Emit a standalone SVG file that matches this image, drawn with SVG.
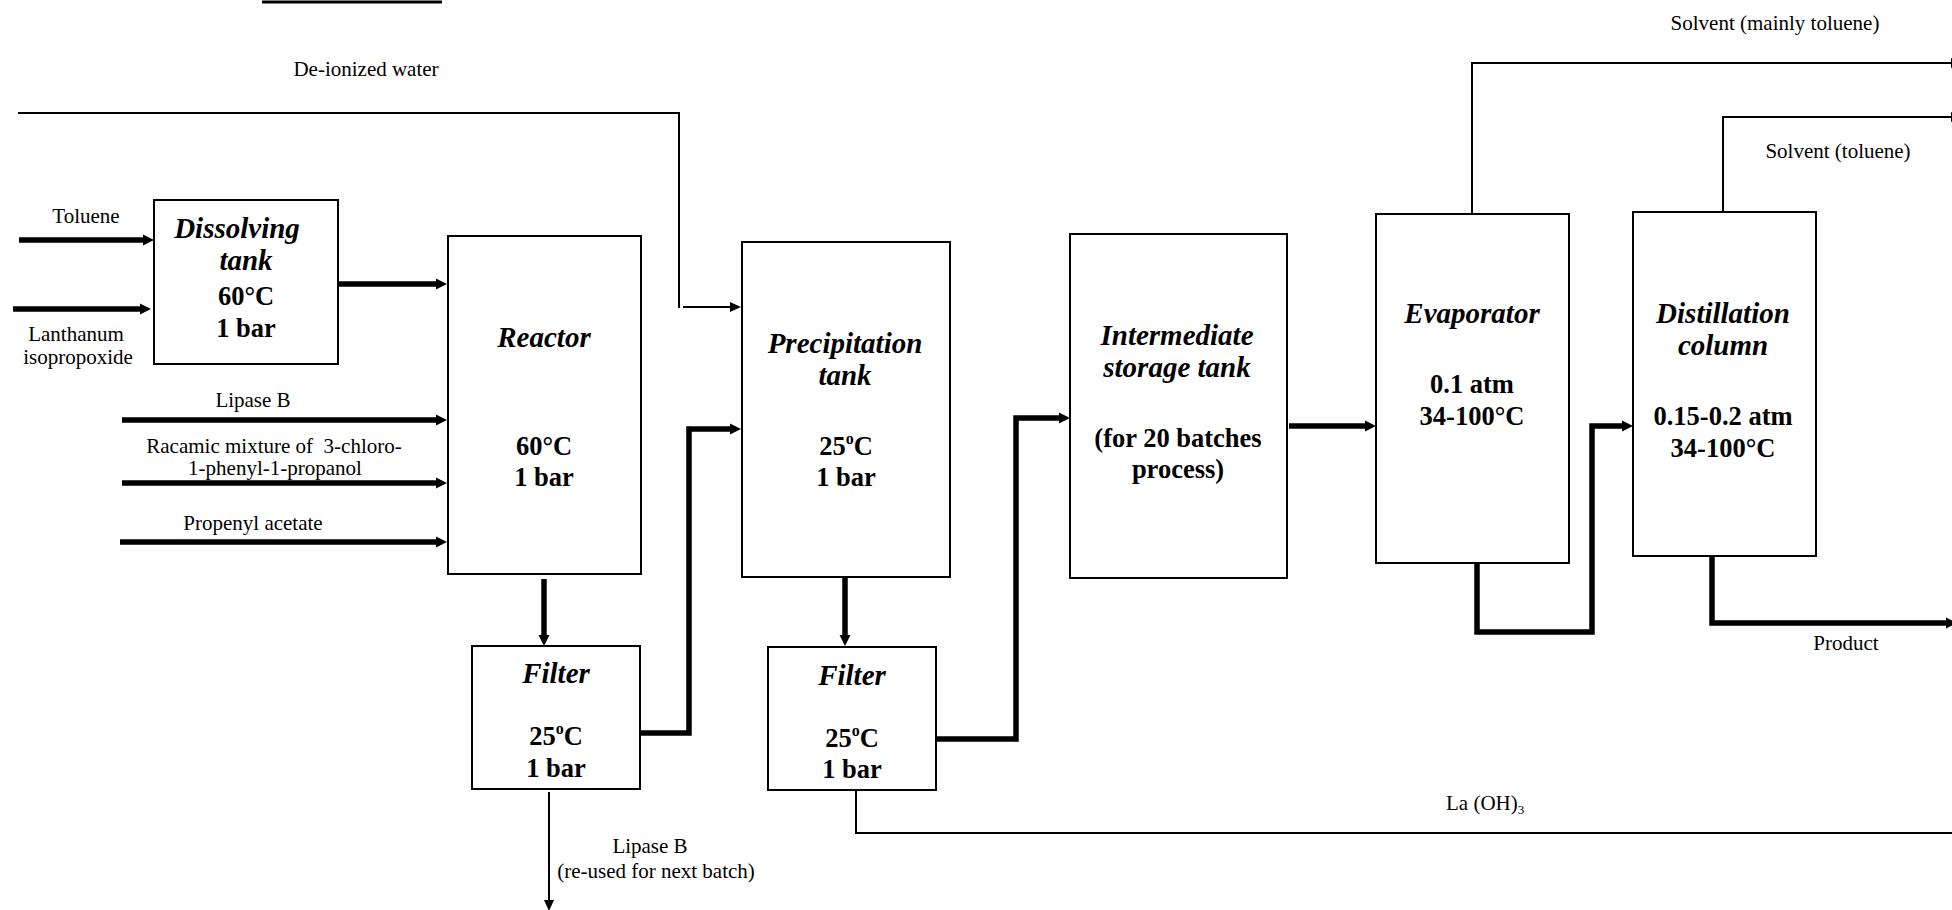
<svg xmlns="http://www.w3.org/2000/svg" width="1952" height="910" viewBox="0 0 1952 910">
  <style>
    .box { fill: #ffffff; stroke: #000000; stroke-width: 2; }
    .thick { fill: none; stroke: #000000; stroke-width: 5.5; stroke-linejoin: miter; }
    .thin { fill: none; stroke: #000000; stroke-width: 2; }
    .title { font-family: "Liberation Serif", "Times New Roman", serif; font-size: 29px; font-weight: bold; font-style: italic; text-anchor: middle; fill: #000; }
    .body { font-family: "Liberation Serif", "Times New Roman", serif; font-size: 26.5px; font-weight: bold; text-anchor: middle; fill: #000; }
    .lbl { font-family: "Liberation Serif", "Times New Roman", serif; font-size: 21px; text-anchor: middle; fill: #000; }
  </style>
  <defs>
    <marker id="ah" markerUnits="userSpaceOnUse" markerWidth="12" markerHeight="12" viewBox="0 -6 12 12" refX="0" refY="0" orient="auto">
      <path d="M0,-5.5 L11,0 L0,5.5 Z" fill="#000"/>
    </marker>
    <marker id="ahs" markerUnits="userSpaceOnUse" markerWidth="12" markerHeight="12" viewBox="0 -6 12 12" refX="0" refY="0" orient="auto">
      <path d="M0,-5 L11,0 L0,5 Z" fill="#000"/>
    </marker>
  </defs>

  <rect width="1952" height="910" fill="#ffffff"/>

  <!-- caption underline running off the top edge -->
  <line x1="262" y1="2" x2="442" y2="2" stroke="#000" stroke-width="3"/>

  <!-- process streams -->
  <g id="connectors">
    <path class="thick" d="M19,240 H143" marker-end="url(#ah)"/>
    <path class="thick" d="M13,309 H140" marker-end="url(#ah)"/>
    <path class="thick" d="M339,284 H436" marker-end="url(#ah)"/>
    <path class="thick" d="M122,420 H436" marker-end="url(#ah)"/>
    <path class="thick" d="M122,483 H436" marker-end="url(#ah)"/>
    <path class="thick" d="M120,542 H436" marker-end="url(#ah)"/>
    <path class="thin" d="M18,113 H679 V308"/>
    <path class="thin" d="M683,307 H730" marker-end="url(#ahs)"/>
    <path class="thick" d="M544,579 V635" marker-end="url(#ah)"/>
    <path class="thick" d="M640,733 H689 V429 H730" marker-end="url(#ah)"/>
    <path class="thin" d="M549,792 V900" marker-end="url(#ahs)"/>
    <path class="thick" d="M845,578 V635" marker-end="url(#ah)"/>
    <path class="thick" d="M936,739 H1016 V418 H1059" marker-end="url(#ah)"/>
    <path class="thin" d="M856,790 V833 H1952"/>
    <path class="thick" d="M1289,426 H1365" marker-end="url(#ah)"/>
    <path class="thick" d="M1477,563 V632 H1592 V426 H1622" marker-end="url(#ah)"/>
    <path class="thick" d="M1712,556 V623 H1946" marker-end="url(#ah)"/>
    <path class="thin" d="M1472,213 V63 H1951" marker-end="url(#ahs)"/>
    <path class="thin" d="M1723,211 V117 H1951" marker-end="url(#ahs)"/>

    <text class="lbl" x="86" y="223">Toluene</text>
    <text class="lbl" x="76" y="341">Lanthanum</text>
    <text class="lbl" x="78" y="364">isopropoxide</text>
    <text class="lbl" x="253" y="407">Lipase B</text>
    <text class="lbl" x="274" y="453" xml:space="preserve">Racamic mixture of  3-chloro-</text>
    <text class="lbl" x="275" y="475">1-phenyl-1-propanol</text>
    <text class="lbl" x="253" y="530">Propenyl acetate</text>
    <text class="lbl" x="366" y="76">De-ionized water</text>
    <text class="lbl" x="650" y="853">Lipase B</text>
    <text class="lbl" x="656" y="878">(re-used for next batch)</text>
    <text class="lbl" x="1446" y="810" style="text-anchor:start">La (OH)<tspan font-size="13" dy="4">3</tspan></text>
    <text class="lbl" x="1775" y="30">Solvent (mainly toluene)</text>
    <text class="lbl" x="1838" y="158">Solvent (toluene)</text>
    <text class="lbl" x="1846" y="650">Product</text>
  </g>

  <g id="dissolving-tank">
    <rect class="box" x="154" y="200" width="184" height="164"/>
    <text class="title" x="237" y="238">Dissolving</text>
    <text class="title" x="246" y="270">tank</text>
    <text class="body" x="246" y="305">60°C</text>
    <text class="body" x="246" y="337">1 bar</text>
  </g>

  <g id="reactor">
    <rect class="box" x="448" y="236" width="193" height="338"/>
    <text class="title" x="544" y="347">Reactor</text>
    <text class="body" x="544" y="455">60°C</text>
    <text class="body" x="544" y="486">1 bar</text>
  </g>

  <g id="filter-1">
    <rect class="box" x="472" y="646" width="168" height="143"/>
    <text class="title" x="556" y="683">Filter</text>
    <text class="body" x="556" y="745">25<tspan font-size="16" dy="-11">o</tspan><tspan dy="11">C</tspan></text>
    <text class="body" x="556" y="777">1 bar</text>
  </g>

  <g id="precipitation-tank">
    <rect class="box" x="742" y="242" width="208" height="335"/>
    <text class="title" x="845" y="353">Precipitation</text>
    <text class="title" x="845" y="385">tank</text>
    <text class="body" x="846" y="455">25<tspan font-size="16" dy="-11">o</tspan><tspan dy="11">C</tspan></text>
    <text class="body" x="846" y="486">1 bar</text>
  </g>

  <g id="filter-2">
    <rect class="box" x="768" y="647" width="168" height="143"/>
    <text class="title" x="852" y="685">Filter</text>
    <text class="body" x="852" y="747">25<tspan font-size="16" dy="-11">o</tspan><tspan dy="11">C</tspan></text>
    <text class="body" x="852" y="778">1 bar</text>
  </g>

  <g id="storage-tank">
    <rect class="box" x="1070" y="234" width="217" height="344"/>
    <text class="title" x="1177" y="345">Intermediate</text>
    <text class="title" x="1177" y="377">storage tank</text>
    <text class="body" x="1178" y="447">(for 20 batches</text>
    <text class="body" x="1178" y="478">process)</text>
  </g>

  <g id="evaporator">
    <rect class="box" x="1376" y="214" width="193" height="349"/>
    <text class="title" x="1472" y="323">Evaporator</text>
    <text class="body" x="1472" y="393">0.1 atm</text>
    <text class="body" x="1472" y="425">34-100°C</text>
  </g>

  <g id="distillation-column">
    <rect class="box" x="1633" y="212" width="183" height="344"/>
    <text class="title" x="1723" y="323">Distillation</text>
    <text class="title" x="1723" y="355">column</text>
    <text class="body" x="1723" y="425">0.15-0.2 atm</text>
    <text class="body" x="1723" y="457">34-100°C</text>
  </g>
</svg>
